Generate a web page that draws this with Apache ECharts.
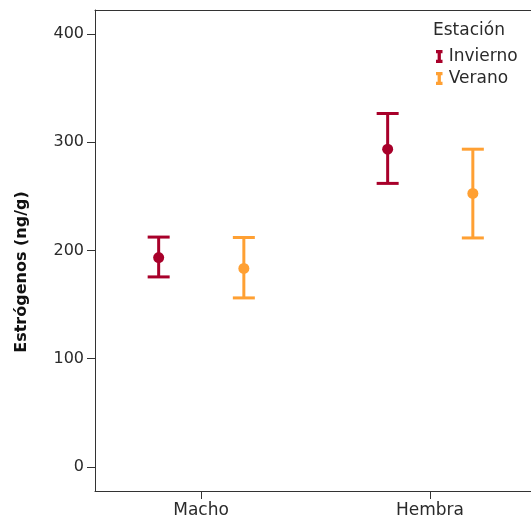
<!DOCTYPE html>
<html><head><meta charset="utf-8">
<script src="https://cdn.jsdelivr.net/npm/echarts@6/dist/echarts.min.js"></script>
<style>html,body{margin:0;padding:0;background:#fff}#c{width:531px;height:519px}</style>
</head><body><div id="c"></div>
<script>
const categories = ['Macho', 'Hembra'];
const seriesNames = ['Invierno', 'Verano'];
const inviernoMean = [193.5, 293.6];
const inviernoLow = [175.6, 262.0];
const inviernoHigh = [212.4, 326.6];
const veranoMean = [183.4, 252.7];
const veranoLow = [156.2, 211.6];
const veranoHigh = [212.0, 293.6];
const yTicks = [0, 100, 200, 300, 400];
const legendTitle = 'Estación';
const yTitle = 'Estrógenos (ng/g)';

const colors = ['#a8002a', '#ffa033'];
const offsets = [-0.185, 0.187];
const FONT = 'DejaVu Sans';
const TXT = '#2a2a2a';
const AX = '#333';

function makeSeries(name, mean, low, high, color, off) {
  const data = categories.map((c, i) => [i + 1 + off, mean[i], low[i], high[i]]);
  return {
    type: 'custom', name, data, xAxisIndex: 0,
    itemStyle: { color },
    encode: { x: 0, y: [1, 2, 3] },
    renderItem(params, api) {
      const x = api.value(0);
      const pm = api.coord([x, api.value(1)]);
      const pl = api.coord([x, api.value(2)]);
      const ph = api.coord([x, api.value(3)]);
      const hw = 11;
      const st = { stroke: color, lineWidth: 3 };
      return { type: 'group', children: [
        { type: 'line', shape: { x1: pl[0], y1: pl[1], x2: ph[0], y2: ph[1] }, style: st },
        { type: 'line', shape: { x1: pl[0] - hw, y1: pl[1], x2: pl[0] + hw, y2: pl[1] }, style: st },
        { type: 'line', shape: { x1: ph[0] - hw, y1: ph[1], x2: ph[0] + hw, y2: ph[1] }, style: st },
        { type: 'circle', shape: { cx: pm[0], cy: pm[1], r: 5.5 }, style: { fill: color } }
      ]};
    }
  };
}

const ibeam = 'path://M0,0 L10,0 L10,5 L7.5,5 L7.5,15 L10,15 L10,20 L0,20 L0,15 L2.5,15 L2.5,5 L0,5 Z';

const chart = echarts.init(document.getElementById('c'), null, { renderer: 'canvas' });
chart.setOption({
  animation: false,
  backgroundColor: '#fff',
  textStyle: { fontFamily: FONT },
  grid: { left: 95, top: 10, bottom: 28, right: 0, containLabel: false },
  xAxis: [{
    type: 'value', min: 0.537, max: 2.441,
    splitLine: { show: false },
    axisLine: { show: true, onZero: false, lineStyle: { color: AX, width: 1 } },
    axisTick: { show: true, customValues: [1, 2], length: 8, lineStyle: { color: AX } },
    axisLabel: { customValues: [1, 2], formatter: v => categories[Math.round(v) - 1] || '', color: TXT, fontSize: 17, fontFamily: FONT, margin: 11 }
  }, {
    type: 'value', position: 'top', min: 0.537, max: 2.441,
    splitLine: { show: false },
    axisLine: { show: true, onZero: false, lineStyle: { color: AX, width: 1 } },
    axisTick: { show: false }, axisLabel: { show: false }
  }],
  yAxis: {
    type: 'value', min: -22.2, max: 422.2,
    splitLine: { show: false },
    axisLine: { show: true, onZero: false, lineStyle: { color: AX, width: 1 } },
    axisTick: { show: true, customValues: yTicks, length: 8, lineStyle: { color: AX } },
    axisLabel: { customValues: yTicks, color: TXT, fontSize: 16, fontFamily: FONT, margin: 11 }
  },
  legend: {
    orient: 'vertical', left: 431, top: 43, itemWidth: 7, itemHeight: 13, itemGap: 5,
    textStyle: { color: TXT, fontSize: 17, fontFamily: FONT, padding: [0, 0, 0, 1] },
    data: seriesNames.map(n => ({ name: n, icon: ibeam }))
  },
  graphic: [
    { type: 'text', left: 433, top: 22, style: { text: legendTitle, fill: TXT, font: '17px "DejaVu Sans"' } },
    { type: 'text', x: 22, y: 272, rotation: Math.PI / 2, style: { text: yTitle, fill: '#111', font: 'bold 16px "DejaVu Sans"', textAlign: 'center', textVerticalAlign: 'middle' } }
  ],
  series: [
    makeSeries(seriesNames[0], inviernoMean, inviernoLow, inviernoHigh, colors[0], offsets[0]),
    makeSeries(seriesNames[1], veranoMean, veranoLow, veranoHigh, colors[1], offsets[1])
  ]
});
</script></body></html>
